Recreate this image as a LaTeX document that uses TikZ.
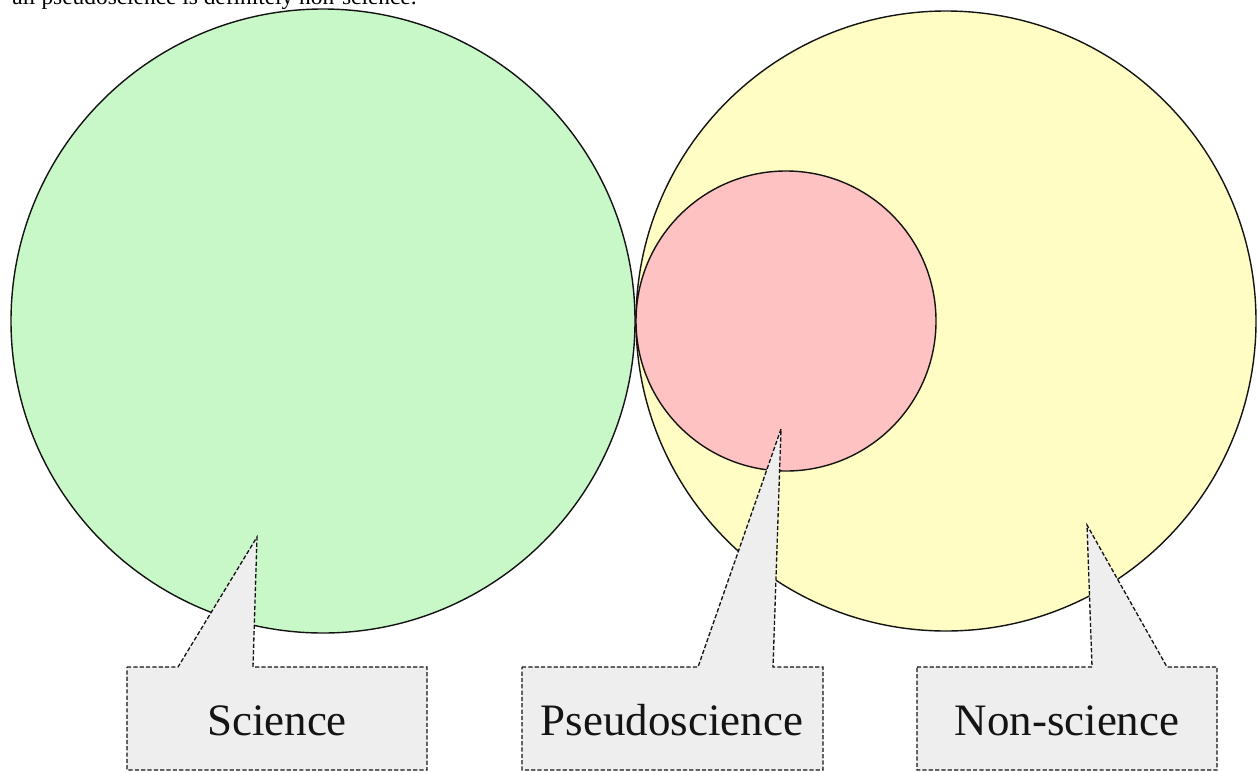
\documentclass[tikz,border=0pt]{standalone}
\usepackage{fontspec}
\setmainfont{Liberation Serif}
\usetikzlibrary{positioning}
\definecolor{FG}{RGB}{200,248,200}
\definecolor{FY}{RGB}{255,252,196}
\definecolor{FP}{RGB}{255,194,194}
\definecolor{FB}{RGB}{238,238,238}
\definecolor{DG}{RGB}{20,20,20}

\tikzset{
  venn/.style={draw=DG, line width=0.8pt},
  callbox/.style={draw=DG, fill=FB, line width=0.75pt, dash pattern=on 2.4pt off 1.2pt},
  calltext/.style={font=\fontsize{25.6}{30}\selectfont, text=DG, anchor=base}
}

\begin{document}
\begin{tikzpicture}[x=0.02cm, y=-0.02cm]
\useasboundingbox (0,0) rectangle (1257,771);

% caption line, cut off at the top
\node[font=\fontsize{13.3}{16}\selectfont, anchor=base west, inner sep=0pt] (cap)
  at (12,4) {all pseudoscience is definitely non-science.};

% the three sets
\draw[venn, fill=FG] (323,321) circle [radius=312];
\draw[venn, fill=FY] (946,321) circle [radius=310];
\draw[venn, fill=FP] (786,321) circle [radius=150];

% callouts
\draw[callbox] (127,667) -- (178,667) -- (257,537) -- (253,667) -- (427,667)
  -- (427,770) -- (127,770) -- cycle;
\node[calltext] (sci) at (277,735) {Science};

\draw[callbox] (522,667) -- (698,667) -- (781,429) -- (773,667) -- (823,667)
  -- (823,770) -- (522,770) -- cycle;
\node[calltext] (pseudo) at (672,735) {Pseudoscience};

\draw[callbox] (917,667) -- (1092,667) -- (1087,525) -- (1167,667) -- (1217,667)
  -- (1217,770) -- (917,770) -- cycle;
\node[calltext] (nonsci) at (1067,735) {Non-science};
\end{tikzpicture}
\end{document}
